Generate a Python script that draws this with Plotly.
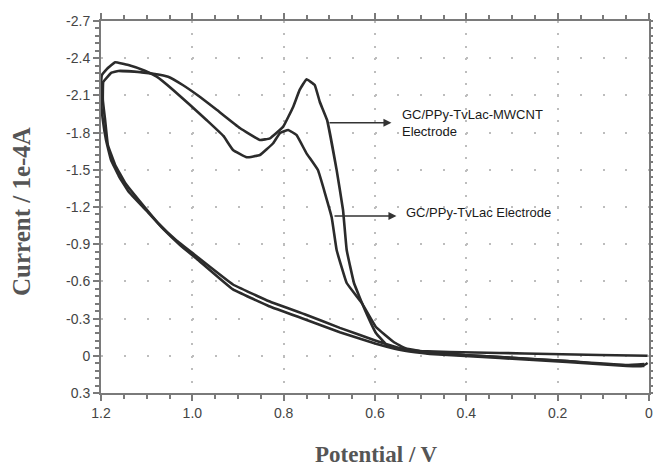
import plotly.graph_objects as go

# ---- data (potential in V, current in 1e-4 A) ----
mwcnt_fwd_v = [0.003, 0.108, 0.2175, 0.327, 0.436, 0.502, 0.544, 0.574, 0.598, 0.622, 0.646, 0.662, 0.670, 0.684,
               0.705, 0.721, 0.732, 0.750, 0.765, 0.779, 0.801, 0.830, 0.852, 0.896, 0.946, 0.983, 1.021, 1.053,
               1.082, 1.111, 1.162, 1.177, 1.195]
mwcnt_fwd_i = [0.0, -0.006, -0.015, -0.023, -0.031, -0.039, -0.055, -0.087, -0.184, -0.369, -0.587, -0.853, -1.176,
               -1.498, -1.902, -2.049, -2.184, -2.230, -2.144, -2.009, -1.848, -1.754, -1.740, -1.837, -1.982,
               -2.087, -2.184, -2.251, -2.273, -2.286, -2.297, -2.283, -2.210]
mwcnt_rev_v = [1.196, 1.191, 1.185, 1.169, 1.147, 1.110, 1.073, 1.036, 0.997, 0.911, 0.832, 0.754, 0.677, 0.598,
               0.535, 0.480, 0.403, 0.327, 0.180, 0.049, 0.010]
mwcnt_rev_i = [-2.063, -1.902, -1.700, -1.539, -1.394, -1.224, -1.063, -0.934, -0.821, -0.575, -0.440, -0.335,
               -0.225, -0.122, -0.052, -0.021, -0.005, 0.010, 0.042, 0.074, 0.066]

tvlac_fwd_v = [0.003, 0.014, 0.049, 0.108, 0.180, 0.261, 0.327, 0.403, 0.458, 0.502, 0.535, 0.559, 0.598, 0.629,
               0.662, 0.684, 0.695, 0.725, 0.750, 0.772, 0.790, 0.808, 0.823, 0.852, 0.881, 0.911, 0.932, 0.969,
               1.005, 1.042, 1.078, 1.104, 1.140, 1.169, 1.185, 1.198]
tvlac_fwd_i = [0.058, 0.082, 0.082, 0.066, 0.042, 0.026, 0.010, -0.006, -0.023, -0.039, -0.063, -0.111, -0.232,
               -0.426, -0.587, -0.853, -1.119, -1.498, -1.633, -1.781, -1.821, -1.797, -1.714, -1.619, -1.601,
               -1.660, -1.773, -1.902, -2.023, -2.144, -2.251, -2.299, -2.345, -2.367, -2.321, -2.265]
tvlac_rev_v = [1.200, 1.200, 1.196, 1.189, 1.178, 1.161, 1.139, 1.102, 1.064, 1.027, 0.990, 0.911, 0.832, 0.754,
               0.677, 0.598, 0.535, 0.480, 0.403, 0.327, 0.180, 0.049, 0.010]
tvlac_rev_i = [-2.184, -2.063, -1.902, -1.740, -1.579, -1.450, -1.321, -1.176, -1.023, -0.894, -0.781, -0.535,
               -0.400, -0.295, -0.190, -0.098, -0.040, -0.015, 0.002, 0.018, 0.050, 0.082, 0.082]

x_ticks = [1.2, 1.0, 0.8, 0.6, 0.4, 0.2, 0.0]
x_tick_text = ["1.2", "1.0", "0.8", "0.6", "0.4", "0.2", "0"]
y_ticks = [-2.7, -2.4, -2.1, -1.8, -1.5, -1.2, -0.9, -0.6, -0.3, 0.0, 0.3]
y_tick_text = ["-2.7", "-2.4", "-2.1", "-1.8", "-1.5", "-1.2", "-0.9", "-0.6", "-0.3", "0", "0.3"]

labels = ["GC/PPy-TvLac-MWCNT<br>Electrode", "GC/PPy-TvLac Electrode"]
arrow_tail_v = [0.703, 0.692]
arrow_head_v = [0.564, 0.553]
arrow_i = [-1.88, -1.127]
label_v = [0.546, 0.537]
label_i = [-1.877, -1.152]

LINE = "#2b2b2b"
fig = go.Figure()
for name, xs, ys in [("GC/PPy-TvLac-MWCNT", mwcnt_fwd_v + mwcnt_rev_v, mwcnt_fwd_i + mwcnt_rev_i),
                     ("GC/PPy-TvLac", tvlac_fwd_v + tvlac_rev_v, tvlac_fwd_i + tvlac_rev_i)]:
    fig.add_trace(go.Scatter(x=xs, y=ys, mode="lines", name=name,
                             line=dict(color=LINE, width=2.6, shape="spline", smoothing=0.25)))

for i in range(2):
    fig.add_annotation(x=arrow_head_v[i], y=arrow_i[i], ax=arrow_tail_v[i], ay=arrow_i[i],
                       xref="x", yref="y", axref="x", ayref="y", text="", showarrow=True,
                       arrowhead=2, arrowsize=1, arrowwidth=1.6, arrowcolor="#333")
    fig.add_annotation(x=label_v[i], y=label_i[i], xref="x", yref="y", text=labels[i], showarrow=False,
                       xanchor="left", yanchor="middle", align="left",
                       font=dict(family="Liberation Sans, Arial", size=13, color="#1a1a1a"))

fig.add_annotation(x=-0.144, y=0.4866, xref="paper", yref="paper", text="Current / 1e-4A", textangle=-90,
                   showarrow=False, xanchor="center", yanchor="middle",
                   font=dict(family="Liberation Serif, Times New Roman", size=25, color="#555", weight="bold"))
fig.add_annotation(x=0.502, y=-0.166, xref="paper", yref="paper", text="Potential / V",
                   showarrow=False, xanchor="center", yanchor="middle",
                   font=dict(family="Liberation Serif, Times New Roman", size=23, color="#555", weight="bold"))

tickfont = dict(family="Liberation Sans Narrow, Liberation Sans, Arial", size=14, color="#444")
fig.update_xaxes(range=[1.2, 0.0], tickvals=x_ticks, ticktext=x_tick_text, tickfont=tickfont,
                 automargin=False, ticklabeloverflow="allow",
                 showline=True, linecolor="#7a7a7a", linewidth=2, mirror="ticks",
                 ticks="outside", ticklen=6, tickwidth=2, tickcolor="#7a7a7a",
                 minor=dict(dtick=0.05, tick0=0, ticks="outside", ticklen=4, tickwidth=1.5, tickcolor="#7a7a7a",
                            showgrid=False),
                 showgrid=True, gridcolor="#bdbdbd", gridwidth=2, griddash="2px,10.4px",
                 zeroline=False)
fig.update_yaxes(range=[0.3, -2.7], tickvals=y_ticks, ticktext=y_tick_text, tickfont=tickfont,
                 automargin=False, ticklabeloverflow="allow",
                 showline=True, linecolor="#7a7a7a", linewidth=2, mirror="ticks",
                 ticks="outside", ticklen=6, tickwidth=2, tickcolor="#7a7a7a",
                 minor=dict(dtick=0.06, tick0=0, ticks="outside", ticklen=4, tickwidth=1.5, tickcolor="#7a7a7a",
                            showgrid=False),
                 showgrid=True, gridcolor="#bdbdbd", gridwidth=2, griddash="2px,20.8px",
                 zeroline=False)

fig.update_layout(width=653, height=468, margin=dict(l=101, r=4, t=21, b=75),
                  plot_bgcolor="white", paper_bgcolor="white", showlegend=False)

fig.write_html("out.html")
